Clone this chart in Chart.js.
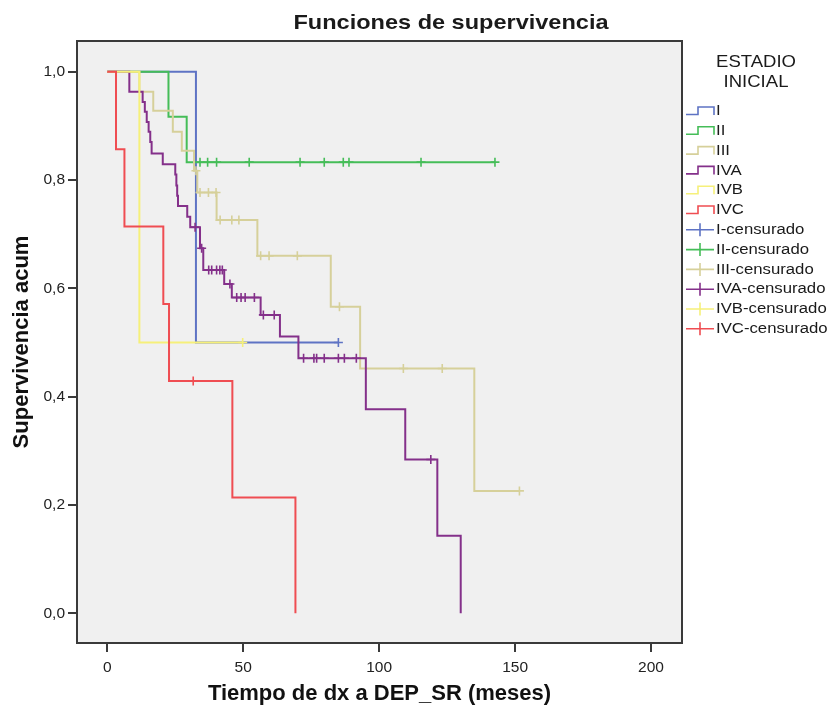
<!DOCTYPE html>
<html>
<head>
<meta charset="utf-8">
<script src="https://cdn.jsdelivr.net/npm/chart.js@4"></script>
<style>
  body { margin: 0; background: #fff; }
  canvas { display: block; }
</style>
</head>
<body>
<canvas id="myChart" width="829" height="711"></canvas>
<script>
// Kaplan-Meier curves by initial stage: step times (months) and cumulative survival
const stageNames = ['I', 'II', 'III', 'IVA', 'IVB', 'IVC'];
const stageColors = ['#5e73c4', '#45bd58', '#d6d09a', '#84308a', '#f6f07a', '#ef4d52'];

const tI = [0, 32.6, 85.0];
const sI = [1, 0.5, 0.5];
const cI = [85.0];

const tII = [0, 22.5, 29.2, 142.6];
const sII = [1, 0.917, 0.833, 0.833];
const cII = [34.1, 36.9, 40.2, 52.2, 70.9, 79.8, 86.8, 88.9, 115.4, 142.6];

const tIII = [0, 11.8, 16.9, 24.1, 27.4, 31.9, 33.1, 40.2, 55.2, 82.2, 93.0, 135.0, 151.6];
const sIII = [1, 0.963, 0.928, 0.889, 0.854, 0.817, 0.777, 0.726, 0.660, 0.566, 0.452, 0.226, 0.226];
const cIII = [32.6, 34.1, 37.2, 40.0, 41.5, 45.8, 48.4, 56.4, 59.5, 69.9, 85.4, 108.9, 123.2, 151.6];

const tIVA = [0, 8.1, 13.0, 13.8, 14.5, 15.2, 15.8, 16.3, 20.4, 25.0, 25.4, 25.7, 26.0, 29.4, 30.5, 34.1, 35.3, 43.0, 45.8, 56.4, 63.5, 70.3, 95.1, 109.6, 121.4, 130.0];
const sIVA = [1, 0.963, 0.944, 0.926, 0.907, 0.889, 0.870, 0.849, 0.829, 0.810, 0.790, 0.771, 0.752, 0.732, 0.713, 0.674, 0.634, 0.608, 0.583, 0.551, 0.511, 0.471, 0.377, 0.284, 0.143, 0];
const cIVA = [32.3, 34.7, 37.3, 38.4, 40.2, 41.4, 42.3, 45.1, 47.6, 49.2, 50.7, 54.1, 57.4, 61.4, 72.2, 76.0, 77.0, 79.8, 85.0, 87.2, 91.6, 119.0];

const tIVB = [0, 11.8, 49.8];
const sIVB = [1, 0.5, 0.5];
const cIVB = [49.8];

const tIVC = [0, 3.2, 6.3, 20.6, 22.7, 46.0, 69.2];
const sIVC = [1, 0.857, 0.714, 0.571, 0.429, 0.214, 0];
const cIVC = [31.6];

const xTicks = [0, 50, 100, 150, 200];
const yTicks = [0, 0.2, 0.4, 0.6, 0.8, 1.0];

const stepTimes = [tI, tII, tIII, tIVA, tIVB, tIVC];
const stepSurv = [sI, sII, sIII, sIVA, sIVB, sIVC];
const censTimes = [cI, cII, cIII, cIVA, cIVB, cIVC];

const FONT = '"Liberation Sans", Arial, sans-serif';

// survival value of a step curve at time t (for placing censor marks)
function survivalAt(times, surv, t) {
    let s = surv[0];
    for (let i = 0; i < times.length; i++) {
        if (times[i] <= t) s = surv[i];
    }
    return s;
}

let datasets = [];
stageNames.forEach((name, i) => {
    datasets.push({
        type: 'line',
        label: name,
        data: stepTimes[i].map((t, k) => ({x: t, y: stepSurv[i][k]})),
        stepped: true,
        borderColor: stageColors[i],
        borderWidth: 2,
        pointRadius: 0,
        fill: false,
        order: 12 - i
    });
});
stageNames.forEach((name, i) => {
    datasets.push({
        type: 'scatter',
        label: name + '-censurado',
        data: censTimes[i].map((t) => ({x: t, y: survivalAt(stepTimes[i], stepSurv[i], t)})),
        pointStyle: 'cross',
        pointRadius: 4.5,
        borderWidth: 1.6,
        borderColor: stageColors[i],
        backgroundColor: stageColors[i],
        order: 6 - i
    });
});

function stretchText(ctx, text, x, y, font, sx, align, baseline) {
    ctx.save();
    ctx.font = font;
    ctx.fillStyle = '#1a1a1a';
    ctx.textAlign = align;
    ctx.textBaseline = baseline;
    ctx.translate(x, y);
    ctx.scale(sx, 1);
    ctx.fillText(text, 0, 0);
    ctx.restore();
}

const framePlugin = {
    id: 'frame',
    beforeDraw(chart) {
        const {ctx, chartArea: a} = chart;
        ctx.save();
        ctx.fillStyle = '#ffffff';
        ctx.fillRect(0, 0, chart.width, chart.height);
        ctx.fillStyle = '#f0f0f0';
        ctx.fillRect(a.left, a.top, a.right - a.left, a.bottom - a.top);
        ctx.restore();
    },
    afterDraw(chart) {
        const {ctx, chartArea: a} = chart;
        ctx.save();
        ctx.strokeStyle = '#3a3a3a';
        ctx.lineWidth = 2;
        ctx.strokeRect(a.left, a.top, a.right - a.left, a.bottom - a.top);
        ctx.restore();

        stretchText(ctx, 'Funciones de supervivencia', 451, 29, 'bold 21px ' + FONT, 1.12, 'center', 'alphabetic');

        // legend
        stretchText(ctx, 'ESTADIO', 756, 62, '17px ' + FONT, 1.09, 'center', 'middle');
        stretchText(ctx, 'INICIAL', 756, 82, '17px ' + FONT, 1.09, 'center', 'middle');
        const labels = stageNames.concat(stageNames.map((n) => n + '-censurado'));
        labels.forEach((lab, i) => {
            const y = 111 + i * 19.8;
            const col = stageColors[i % 6];
            ctx.save();
            ctx.strokeStyle = col;
            ctx.lineWidth = 1.6;
            ctx.beginPath();
            if (i < 6) {
                ctx.moveTo(686, y + 3.5);
                ctx.lineTo(698, y + 3.5);
                ctx.lineTo(698, y - 4);
                ctx.lineTo(714, y - 4);
                ctx.lineTo(714, y + 4);
            } else {
                ctx.moveTo(686, y);
                ctx.lineTo(714, y);
                ctx.moveTo(700, y - 6.5);
                ctx.lineTo(700, y + 6.5);
            }
            ctx.stroke();
            ctx.restore();
            stretchText(ctx, lab, 716, y, '15.5px ' + FONT, 1.08, 'left', 'middle');
        });
    }
};

let myChart = new Chart('myChart', {
    data: {datasets: datasets},
    options: {
        responsive: false,
        animation: false,
        devicePixelRatio: 1,
        layout: {padding: {top: 41, right: 147, left: 0, bottom: 0}},
        plugins: {
            legend: {display: false},
            title: {display: false},
            tooltip: {enabled: false}
        },
        scales: {
            x: {
                type: 'linear',
                min: -11.15,
                max: 211.4,
                afterBuildTicks: (axis) => { axis.ticks = xTicks.map((v) => ({value: v})); },
                afterFit: (axis) => { axis.height = 68; },
                border: {display: false},
                grid: {drawOnChartArea: false, drawTicks: true, tickLength: 9, tickColor: '#3a3a3a', lineWidth: 2},
                ticks: {
                    maxRotation: 0,
                    padding: 6,
                    color: '#222',
                    font: {family: FONT, size: 15.5}
                },
                title: {
                    display: true,
                    text: 'Tiempo de dx a DEP_SR (meses)',
                    color: '#111',
                    font: {family: FONT, size: 22, weight: 'bold'},
                    padding: {top: 0, bottom: 4}
                }
            },
            y: {
                type: 'linear',
                min: -0.0548,
                max: 1.0567,
                afterBuildTicks: (axis) => { axis.ticks = yTicks.map((v) => ({value: v})); },
                afterFit: (axis) => { axis.width = 77; },
                border: {display: false},
                grid: {drawOnChartArea: false, drawTicks: true, tickLength: 9, tickColor: '#3a3a3a', lineWidth: 2},
                ticks: {
                    padding: 3,
                    color: '#222',
                    font: {family: FONT, size: 15.5},
                    callback: (v) => v.toFixed(1).replace('.', ',')
                },
                title: {
                    display: true,
                    text: 'Supervivencia acum',
                    color: '#111',
                    font: {family: FONT, size: 22, weight: 'bold'},
                    padding: {top: 9, bottom: 0}
                }
            }
        }
    },
    plugins: [framePlugin]
});
</script>
</body>
</html>
